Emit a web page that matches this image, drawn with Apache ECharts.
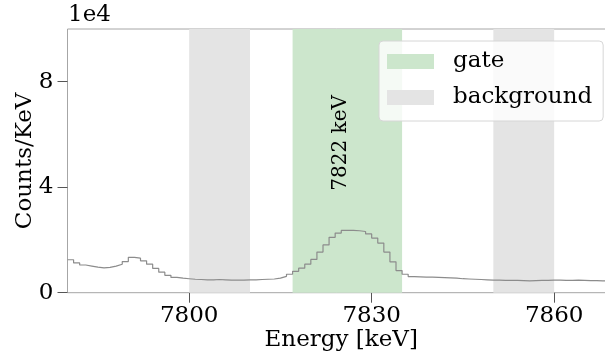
<!DOCTYPE html>
<html>
<head>
<meta charset="utf-8">
<script src="https://cdn.jsdelivr.net/npm/echarts@6/dist/echarts.min.js"></script>
<style>
  html, body { margin: 0; padding: 0; background: #fff; }
  #chart { width: 605px; height: 356px; }
</style>
</head>
<body>
<div id="chart"></div>
<script>
// Gamma spectrum around 7822 keV, 1 keV bins, counts per keV
const binStart = 7780;
const binWidth = 1;
const counts = [
  12500, 11300, 10500, 10100, 9700, 9400, 9600, 10100, 10800, 11800,   // 7780-7789
  13400, 13100, 12100, 10800, 9200, 7800, 6600, 5800, 5500, 5300,      // 7790-7799
  5100, 5000, 4900, 4900, 5000, 4900, 4800, 4800, 4800, 4900,          // 7800-7809
  4900, 5000, 5100, 5200, 5500, 6200, 7000, 8100, 9300, 10800,         // 7810-7819
  12600, 15400, 18100, 21000, 22600, 23600, 23600, 23500, 23200, 22300, // 7820-7829
  20700, 18800, 15400, 11700, 8400, 7000, 6100, 6000, 5900, 5900,      // 7830-7839
  5800, 5700, 5600, 5500, 5300, 5200, 5100, 5000, 4900, 4800,          // 7840-7849
  4800, 4700, 4700, 4700, 4600, 4500, 4600, 4700, 4700, 4800,          // 7850-7859
  4800, 4700, 4700, 4800, 4700, 4600, 4600, 4500, 4400, 4400           // 7860-7869
];
const gateWindow = [7817, 7835];
const backgroundWindows = [[7800, 7810], [7850, 7860]];
const xTicks = [7800, 7830, 7860];
const yTicks = [0, 40000, 80000];
const yScaleText = '1e4';
const peakLabel = '7822 keV';

const xRange = [7780, 7870];
const yRange = [0, 100000];
const labelAnchor = [7825, 56800];

const FONT = 'DejaVu Serif';
const FS = 23;
const gateColor = '#cce6cc';
const bgColor = '#e4e4e4';

// step outline: one point per bin edge, last bin closed at its right edge
const histPoints = counts.map((c, i) => [binStart + i * binWidth, c]);
histPoints.push([binStart + counts.length * binWidth, counts[counts.length - 1]]);

const chart = echarts.init(document.getElementById('chart'), null, { renderer: 'canvas' });

chart.setOption({
  animation: false,
  textStyle: { fontFamily: FONT, color: '#000' },
  grid: {
    left: 67.5, top: 29, width: 547.5, height: 263.7,
    outerBoundsMode: 'none',
    show: true, borderColor: '#a6a6a6', borderWidth: 1, backgroundColor: 'transparent'
  },
  graphic: [{
    type: 'text',
    left: 68, top: 4,
    style: { text: yScaleText, font: FS + 'px "' + FONT + '"', fill: '#000' }
  }],
  legend: {
    orient: 'vertical',
    left: 379, top: 41,
    icon: 'rect',
    itemWidth: 47, itemHeight: 15,
    itemGap: 13,
    padding: [9, 11, 12, 8],
    backgroundColor: 'rgba(255,255,255,0.8)',
    borderColor: '#d6d6d6', borderWidth: 1, borderRadius: 4,
    textStyle: { fontFamily: FONT, fontSize: FS, color: '#000', lineHeight: 20, padding: [0, 0, 0, 14] },
    data: ['gate', 'background']
  },
  xAxis: {
    type: 'value',
    min: xRange[0], max: xRange[1],
    name: 'Energy [keV]',
    nameLocation: 'middle',
    nameGap: 36,
    nameMoveOverlap: false,
    nameTextStyle: { fontFamily: FONT, fontSize: FS, color: '#000' },
    axisLine: { show: false },
    axisTick: { show: true, length: 10, lineStyle: { color: '#555' }, customValues: xTicks },
    axisLabel: {
      fontFamily: FONT, fontSize: FS, color: '#000', margin: 12, customValues: xTicks,
      formatter: v => String(v)
    },
    splitLine: { show: false }
  },
  yAxis: {
    type: 'value',
    min: yRange[0], max: yRange[1],
    name: 'Counts/KeV',
    nameLocation: 'middle',
    nameGap: 31,
    nameMoveOverlap: false,
    nameTextStyle: { fontFamily: FONT, fontSize: FS, color: '#000' },
    axisLine: { show: false },
    axisTick: { show: true, length: 10, lineStyle: { color: '#555' }, customValues: yTicks },
    axisLabel: {
      fontFamily: FONT, fontSize: FS, color: '#000', margin: 14, customValues: yTicks,
      formatter: v => String(Math.round(v / 1e4))
    },
    splitLine: { show: false }
  },
  series: [
    {
      name: 'gate',
      type: 'bar',
      data: [],
      itemStyle: { color: gateColor },
      markArea: {
        silent: true,
        itemStyle: { color: gateColor },
        data: [[{ xAxis: gateWindow[0] }, { xAxis: gateWindow[1] }]]
      }
    },
    {
      name: 'background',
      type: 'bar',
      data: [],
      itemStyle: { color: bgColor },
      markArea: {
        silent: true,
        itemStyle: { color: bgColor },
        data: backgroundWindows.map(w => [{ xAxis: w[0] }, { xAxis: w[1] }])
      }
    },
    {
      name: 'spectrum',
      type: 'line',
      step: 'end',
      data: histPoints,
      symbol: 'none',
      z: 5,
      lineStyle: { color: '#8c8c8c', width: 1.2 },
      markPoint: {
        silent: true,
        symbol: 'circle',
        symbolSize: 0,
        label: {
          show: true, position: 'inside', rotate: 90,
          fontFamily: FONT, fontSize: 20, color: '#000',
          formatter: peakLabel
        },
        data: [{ coord: labelAnchor }]
      }
    }
  ]
});
</script>
</body>
</html>
